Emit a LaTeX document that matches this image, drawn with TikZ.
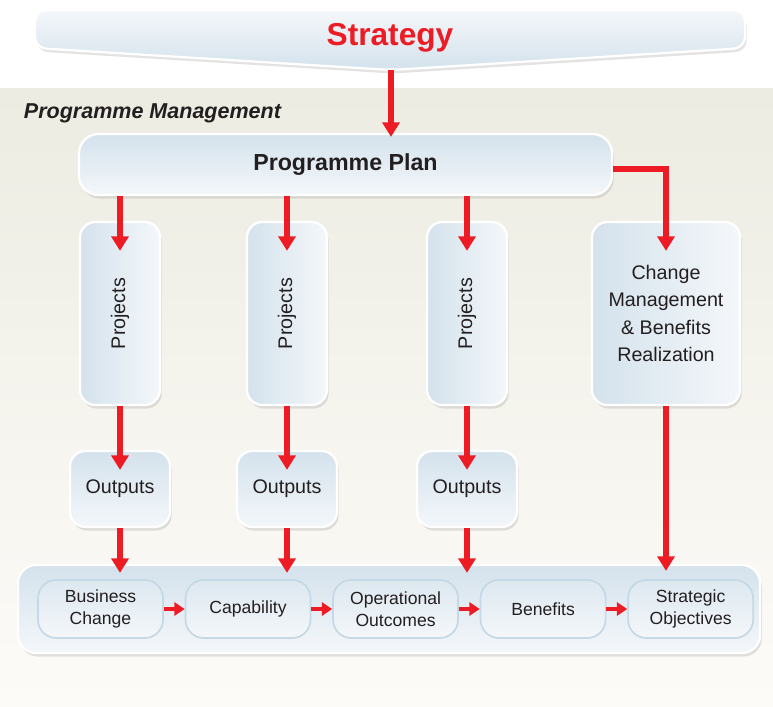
\documentclass[tikz,border=0pt]{standalone}
\usepackage{fontspec}
\setmainfont{Liberation Sans}
\usepackage{tikz}
\usetikzlibrary{arrows.meta, positioning, calc, shadows}
\definecolor{redarr}{RGB}{237, 28, 36}
\definecolor{boxtop}{RGB}{212, 226, 236}
\definecolor{boxbot}{RGB}{244, 247, 250}
\definecolor{sand}{RGB}{237, 236, 226}
\definecolor{sandlt}{RGB}{252, 251, 248}
\definecolor{ink}{RGB}{35, 31, 32}
\definecolor{rim}{RGB}{196, 216, 229}

\begin{document}
\begin{tikzpicture}[
    x=0.025cm, y=-0.025cm,
    panel/.style={rectangle, rounded corners=#1, draw=white, line width=1.6pt,
      top color=boxtop, bottom color=boxbot, text=ink,
      drop shadow={opacity=0.22, shadow xshift=1.2pt, shadow yshift=-2.5pt}},
    panel/.default=11pt,
    stage/.style={rectangle, rounded corners=13pt, draw=rim, line width=1.2pt,
      top color=boxtop!80!white, bottom color=boxbot, text=ink,
      minimum width=3.125cm, minimum height=1.45cm, align=center,
      font=\fontsize{12.5}{15.5}\selectfont},
    arr/.style={redarr, line width=0.15cm, -{Triangle[width=0.42cm, length=0.36cm]}},
    small/.style={redarr, line width=0.12cm, -{Triangle[width=0.33cm, length=0.26cm]}},
    body/.style={font=\fontsize{14}{19.5}\selectfont}
  ]
  \useasboundingbox (0,0) rectangle (773,706);
  \fill[top color=sand, bottom color=sandlt] (0,88) rectangle (773,706);

  % strategy banner
  \path[panel=8pt, top color=boxbot, bottom color=boxtop]
    (35,10) -- (745,10) -- (745,48) -- (391,70) -- (35,48) -- cycle;
  \node[font=\fontsize{22.5}{26}\selectfont\bfseries, text=redarr] (strat) at (390,38) {Strategy};
  \coordinate (tip) at (391,70);

  \node[anchor=west, text=ink, font=\fontsize{15.3}{18}\selectfont\bfseries\itshape] (pm) at (19,113) {Programme Management};

  % plan and the four columns
  \node[panel=14pt, minimum width=13.325cm, minimum height=1.525cm,
    font=\fontsize{16.5}{20}\selectfont\bfseries] (plan) at (345.5,164.5) {Programme Plan};
  \node[panel, left color=boxtop, right color=boxbot, minimum width=2cm, minimum height=4.575cm, body] (proj1) at (120,313.5) {\rotatebox{90}{Projects}};
  \node[panel, left color=boxtop, right color=boxbot, minimum width=2cm, minimum height=4.575cm, body] (proj2) at (287,313.5) {\rotatebox{90}{Projects}};
  \node[panel, left color=boxtop, right color=boxbot, minimum width=2cm, minimum height=4.575cm, body] (proj3) at (467,313.5) {\rotatebox{90}{Projects}};
  \node[panel, left color=boxtop, right color=boxbot, minimum width=3.7cm, minimum height=4.575cm, body, align=center] (chmgmt) at (666,313.5) {Change\\Management\\\& Benefits\\Realization};

  \node[panel, minimum width=2.5cm, minimum height=1.9cm, body] (out1) at (120,489) {Outputs};
  \node[panel, minimum width=2.5cm, minimum height=1.9cm, body] (out2) at (287,489) {Outputs};
  \node[panel, minimum width=2.5cm, minimum height=1.9cm, body] (out3) at (467,489) {Outputs};

  % benefits chain
  \node[panel=13pt, minimum width=18.55cm, minimum height=2.2cm] (chain) at (389,609) {};
  \node[stage] (busch) at (100.5,609) {Business\\Change};
  \node[stage, right=0.52cm of busch] (capab) {Capability};
  \node[stage, right=0.52cm of capab] (opout) {Operational\\Outcomes};
  \node[stage, right=0.52cm of opout] (benef) {Benefits};
  \node[stage, right=0.52cm of benef] (stobj) {Strategic\\Objectives};

  \draw[arr] (tip) -- ($(tip |- plan.north)+(0,4)$);
  \draw[arr] (plan.south -| proj1) -- ([yshift=-0.75cm]proj1.north);
  \draw[arr] (plan.south -| proj2) -- ([yshift=-0.75cm]proj2.north);
  \draw[arr] (plan.south -| proj3) -- ([yshift=-0.75cm]proj3.north);
  \draw[arr] ([yshift=-0.12cm]plan.east) -| ([yshift=-0.75cm]chmgmt.north);
  \draw[arr] (proj1.south) -- ([yshift=-0.5cm]out1.north);
  \draw[arr] (proj2.south) -- ([yshift=-0.5cm]out2.north);
  \draw[arr] (proj3.south) -- ([yshift=-0.5cm]out3.north);
  \draw[arr] (out1.south) -- ($(out1.south |- chain.north)+(0,9)$);
  \draw[arr] (out2.south) -- ($(out2.south |- chain.north)+(0,9)$);
  \draw[arr] (out3.south) -- ($(out3.south |- chain.north)+(0,9)$);
  \draw[arr] (chmgmt.south) -- ($(chmgmt.south |- chain.north)+(0,7)$);
  \draw[small] (busch) -- (capab);
  \draw[small] (capab) -- (opout);
  \draw[small] (opout) -- (benef);
  \draw[small] (benef) -- (stobj);
\end{tikzpicture}
\end{document}
